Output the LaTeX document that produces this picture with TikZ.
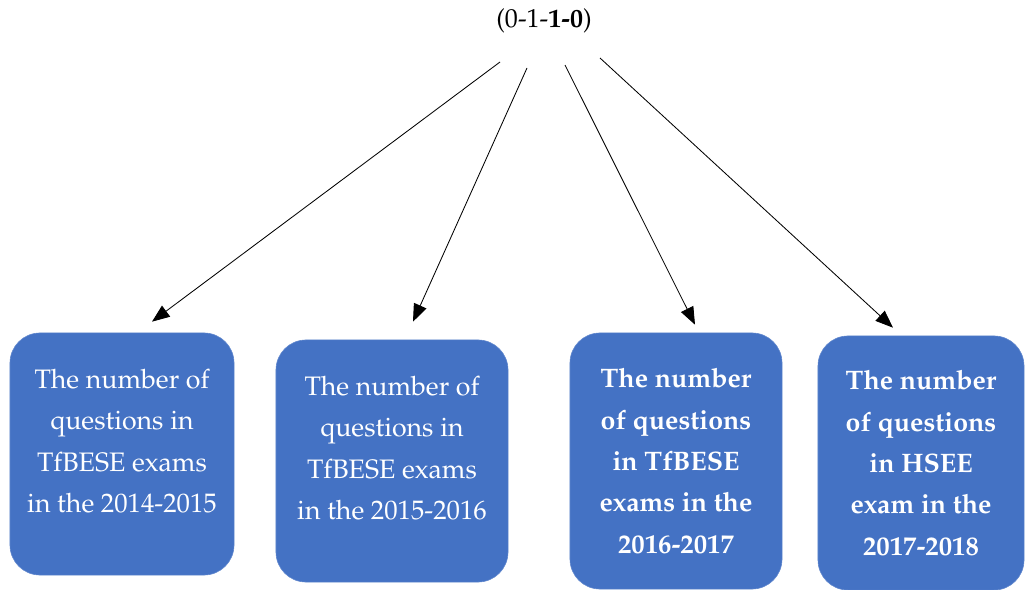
\documentclass[tikz,border=0pt]{standalone}
\usepackage[T1]{fontenc}
\usepackage{mathpazo}
\usepackage{tikz}
\usetikzlibrary{arrows.meta}

\definecolor{boxblue}{HTML}{4472C4}

\tikzset{
  examBox/.style={draw=boxblue!85!white, fill=boxblue, rounded corners=0.75cm,
    text=white, align=center, font=\fontsize{19}{29.5}\selectfont},
  examArrow/.style={-{Triangle[length=4.4mm,width=3.4mm]}, line width=0.6pt}
}

\begin{document}
\begin{tikzpicture}[x=0.025cm, y=-0.025cm]
\useasboundingbox (0,0) rectangle (1026,590);
%% label on top
\node (code) at (544,21) {\fontsize{18.5}{22}\selectfont (0-1-\textbf{1-0})};
\coordinate (s1) at (500,62);
\coordinate (s2) at (527,68);
\coordinate (s3) at (565,65);
\coordinate (s4) at (600,58);
%% boxes
\node (b1) [examBox, minimum width=5.6cm, minimum height=6.05cm, text depth=0.65cm] at (122,454)
  {The number of\\questions in\\TfBESE exams\\in the 2014-2015};
\node (b2) [examBox, minimum width=5.8cm, minimum height=6.05cm, text depth=0.65cm] at (392,461)
  {The number of\\questions in\\TfBESE exams\\in the 2015-2016};
\node (b3) [examBox, minimum width=5.3cm, minimum height=6.4cm, font=\fontsize{19}{29.5}\selectfont\bfseries] at (676,461)
  {The number\\of questions\\in TfBESE\\exams in the\\2016-2017};
\node (b4) [examBox, minimum width=5.15cm, minimum height=6.35cm, font=\fontsize{19}{29.5}\selectfont\bfseries] at (921,463)
  {The number\\of questions\\in HSEE\\exam in the\\2017-2018};
%% arrows
\foreach \s/\b/\dx/\dy in {s1/b1/30/-11, s2/b2/21/-18, s3/b3/19/-8, s4/b4/-28/-8}
  \draw [examArrow] (\s) -- ([shift={(\dx,\dy)}]\b.north);
\end{tikzpicture}
\end{document}
